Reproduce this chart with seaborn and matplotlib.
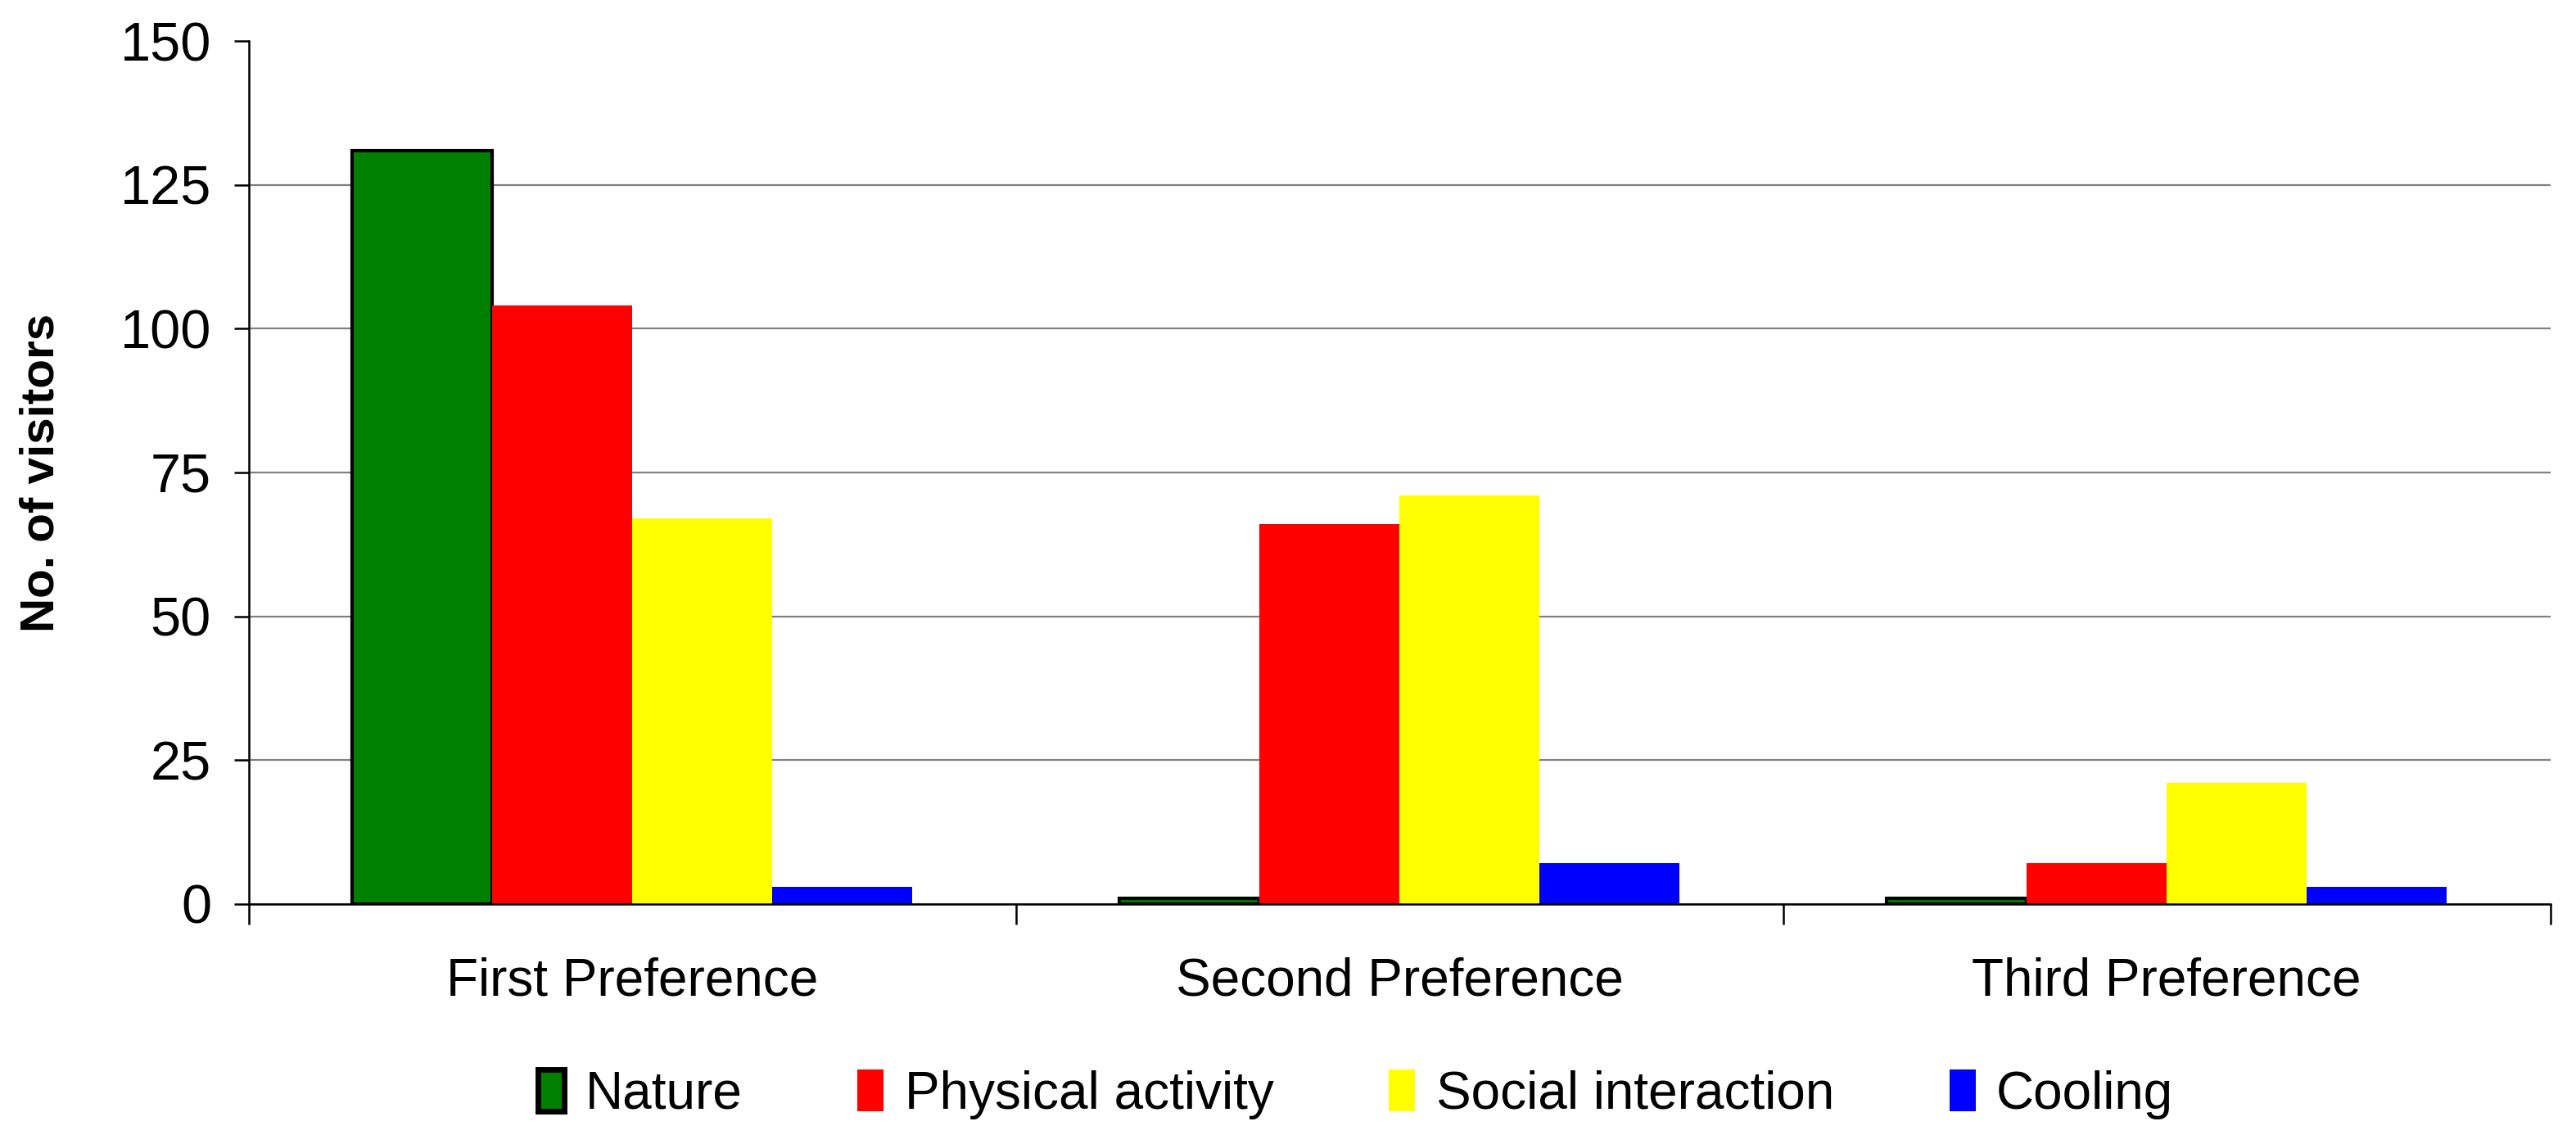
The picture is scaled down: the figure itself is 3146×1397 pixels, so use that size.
import matplotlib
matplotlib.use('Agg')
import matplotlib.pyplot as plt
import pandas as pd
import seaborn as sns
from matplotlib.ticker import FixedLocator

categorias = ['First Preference', 'Second Preference', 'Third Preference']
motivos = ['Nature', 'Physical activity', 'Social interaction', 'Cooling']
nature = [131, 1, 1]
physical = [104, 66, 7]
social = [67, 71, 21]
cooling = [3, 7, 3]
cores = ['#008000', '#ff0000', '#ffff00', '#0000ff']

valores = {'Nature': nature, 'Physical activity': physical,
           'Social interaction': social, 'Cooling': cooling}
linhas = []
for m in motivos:
    for c, v in zip(categorias, valores[m]):
        linhas.append({'Preferencia': c, 'Motivo': m, 'Visitantes': v})
df = pd.DataFrame(linhas)

sns.set_style('white')
plt.rcParams['font.family'] = ['Liberation Sans', 'DejaVu Sans']
plt.rcParams['text.color'] = 'black'
plt.rcParams['axes.labelcolor'] = 'black'
plt.rcParams['xtick.color'] = 'black'
plt.rcParams['ytick.color'] = 'black'

fig = plt.figure(figsize=(15.73, 6.985), dpi=200)
ax = fig.add_axes([0.0966, 0.21, 0.8934, 0.754])

sns.barplot(data=df, x='Preferencia', y='Visitantes', hue='Motivo',
            order=categorias, hue_order=motivos, palette=cores,
            width=0.73, saturation=1, linewidth=0, ax=ax)

# barras Nature com borda preta
for p in ax.containers[0]:
    p.set_edgecolor('black')
    p.set_linewidth(1.5)

ax.set_xlim(-0.5, 2.5)
ax.set_ylim(0, 150)
ax.set_yticks([0, 25, 50, 75, 100, 125, 150])
ax.yaxis.grid(True, color='#808080', linewidth=0.8)
ax.set_axisbelow(True)
ax.yaxis.get_gridlines()[-1].set_visible(False)
ax.set_xlabel('')
ax.set_ylabel('No. of visitors', fontsize=21, fontweight='bold', labelpad=25)

for s in ['top', 'right']:
    ax.spines[s].set_visible(False)
ax.spines['left'].set_color('black')
ax.spines['bottom'].set_color('black')
ax.spines['left'].set_linewidth(0.9)
ax.spines['bottom'].set_linewidth(0.9)

ax.tick_params(axis='y', which='major', left=True, length=6.5, width=0.9,
               labelsize=24, pad=10)
ax.tick_params(axis='x', which='major', bottom=False, labelsize=23, pad=20)
ax.xaxis.set_minor_locator(FixedLocator([-0.5, 0.5, 1.5, 2.5]))
ax.tick_params(axis='x', which='minor', bottom=True, length=9, width=0.9)

handles, labels = ax.get_legend_handles_labels()
handles[0].set_edgecolor('black')
handles[0].set_linewidth(2.5)
ax.legend(handles, labels, loc='center', bbox_to_anchor=(0.481, -0.221),
          ncol=4, frameon=False, fontsize=23, handlelength=0.5,
          handleheight=0.85, handletextpad=0.4, columnspacing=2.2)

fig.savefig('out.png', dpi=200)
